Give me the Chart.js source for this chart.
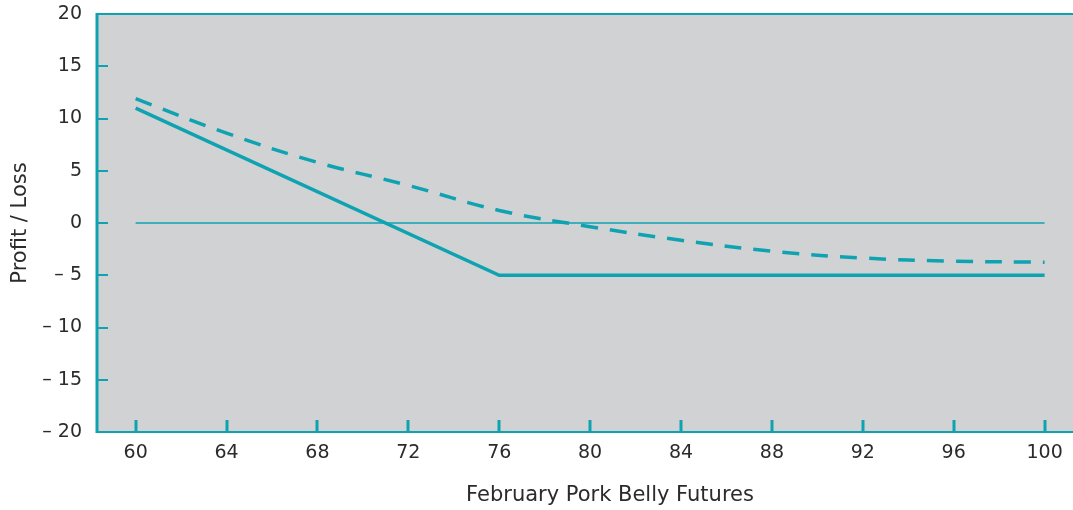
<!DOCTYPE html>
<html>
<head>
<meta charset="utf-8">
<script src="https://cdn.jsdelivr.net/npm/chart.js@4/dist/chart.umd.min.js"></script>
<style>
html,body{margin:0;padding:0;background:#fff;}
#wrap{width:1073px;height:510px;position:relative;}
</style>
</head>
<body>
<div id="wrap"><canvas id="c" width="1073" height="510"></canvas></div>
<script>
// Data
const xTicks = [60, 64, 68, 72, 76, 80, 84, 88, 92, 96, 100];
const yTicks = [-20, -15, -10, -5, 0, 5, 10, 15, 20];
const dashedX = [60, 64, 68, 72, 76, 80, 84, 88, 92, 96, 100];
const dashedY = [11.9, 8.6, 5.8, 3.6, 1.2, -0.35, -1.65, -2.7, -3.35, -3.65, -3.75];
const solidX = [60, 76, 100];
const solidY = [11, -5, -5];
const zeroX = [60, 100];
const zeroY = [0, 0];
const xTitle = 'February Pork Belly Futures';
const yTitle = 'Profit / Loss';

const TEAL = '#0fa3b1';
const TEXT = '#2b2b2b';
const FONT = '"DejaVu Sans", sans-serif';

const toPts = (xs, ys) => xs.map((x, i) => ({x: x, y: ys[i]}));

const framePlugin = {
  id: 'frame',
  beforeDraw(chart) {
    const {ctx, chartArea: a} = chart;
    ctx.save();
    ctx.fillStyle = '#d1d2d4';
    ctx.fillRect(a.left, a.top, a.right - a.left, a.bottom - a.top);
    ctx.restore();
  },
  afterDatasetsDraw(chart) {
    const {ctx, chartArea: a, scales} = chart;
    ctx.save();
    ctx.strokeStyle = TEAL;
    ctx.lineWidth = 2;
    ctx.beginPath(); ctx.moveTo(a.left, a.top); ctx.lineTo(a.right, a.top); ctx.stroke();
    ctx.beginPath(); ctx.moveTo(a.left, a.bottom); ctx.lineTo(a.right, a.bottom); ctx.stroke();
    ctx.lineWidth = 3;
    ctx.beginPath(); ctx.moveTo(a.left, a.top - 1); ctx.lineTo(a.left, a.bottom + 1); ctx.stroke();
    ctx.lineWidth = 2;
    yTicks.forEach(v => {
      if (v === 20 || v === -20) return;
      const y = Math.round(scales.y.getPixelForValue(v));
      ctx.beginPath(); ctx.moveTo(a.left, y); ctx.lineTo(a.left + 11, y); ctx.stroke();
    });
    ctx.lineWidth = 3;
    xTicks.forEach(v => {
      const x = Math.round(scales.x.getPixelForValue(v));
      ctx.beginPath(); ctx.moveTo(x, a.bottom); ctx.lineTo(x, a.bottom - 12); ctx.stroke();
    });
    // x axis title (placed slightly right of centre as in the original)
    ctx.fillStyle = TEXT;
    ctx.font = '21px ' + FONT;
    ctx.textAlign = 'center';
    ctx.textBaseline = 'middle';
    ctx.fillText(xTitle, (a.left + a.right) / 2 + 25, 496);
    ctx.restore();
  }
};

new Chart(document.getElementById('c'), {
  type: 'line',
  data: {
    datasets: [
      {
        data: toPts(zeroX, zeroY),
        borderColor: TEAL, borderWidth: 1.5, pointRadius: 0, tension: 0
      },
      {
        data: toPts(dashedX, dashedY),
        borderColor: TEAL, borderWidth: 3.5, borderDash: [17, 12],
        pointRadius: 0, tension: 0.4
      },
      {
        data: toPts(solidX, solidY),
        borderColor: TEAL, borderWidth: 3.5, pointRadius: 0, tension: 0
      }
    ]
  },
  options: {
    responsive: false,
    animation: false,
    devicePixelRatio: 1,
    layout: {padding: {top: 14, right: 0, left: 0, bottom: 0}},
    plugins: {legend: {display: false}, tooltip: {enabled: false}},
    scales: {
      x: {
        type: 'linear',
        min: 58.3, max: 101.25,
        afterBuildTicks: s => { s.ticks = xTicks.map(v => ({value: v})); },
        afterFit: s => { s.height = 78; s.paddingLeft = 0; s.paddingRight = 0; },
        grid: {display: false, drawTicks: false},
        border: {display: false},
        ticks: {
          color: TEXT, font: {family: FONT, size: 19}, padding: 10,
          callback: v => String(v)
        },
        title: {display: false}
      },
      y: {
        type: 'linear',
        min: -20, max: 20,
        afterBuildTicks: s => { s.ticks = yTicks.map(v => ({value: v})); },
        afterFit: s => { s.width = 97; s.paddingTop = 0; s.paddingBottom = 0; },
        grid: {display: false, drawTicks: false},
        border: {display: false},
        ticks: {
          color: TEXT, font: {family: FONT, size: 19}, padding: 15,
          callback: v => v < 0 ? '\u2013 ' + Math.abs(v) : String(v)
        },
        title: {
          display: true, text: yTitle, color: TEXT,
          font: {family: FONT, size: 21}, padding: {top: 8, bottom: 0}
        }
      }
    }
  },
  plugins: [framePlugin]
});
</script>
</body>
</html>
